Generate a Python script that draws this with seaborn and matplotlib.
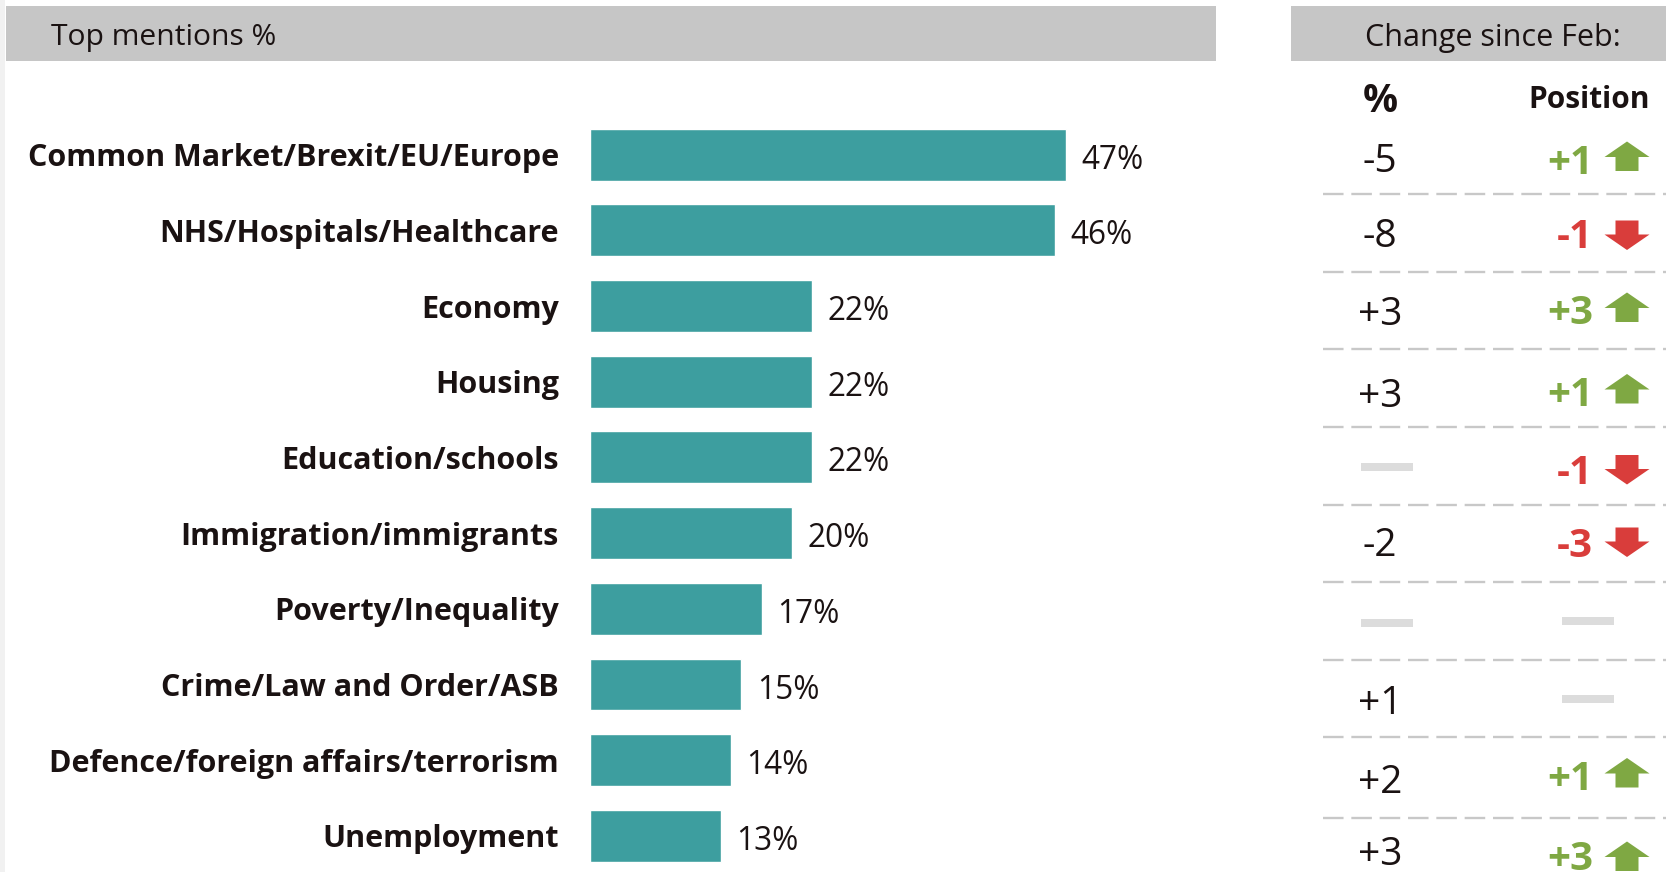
import matplotlib
matplotlib.use("Agg")
import matplotlib.pyplot as plt
import pandas as pd
import seaborn as sns
from matplotlib.patches import Polygon, Rectangle

# data
issues = ["Common Market/Brexit/EU/Europe", "NHS/Hospitals/Healthcare", "Economy", "Housing",
          "Education/schools", "Immigration/immigrants", "Poverty/Inequality",
          "Crime/Law and Order/ASB", "Defence/foreign affairs/terrorism", "Unemployment"]
mentions = [47, 46, 22, 22, 22, 20, 17, 15, 14, 13]
change_pct = ["-5", "-8", "+3", "+3", None, "-2", None, "+1", "+2", "+3"]
change_pos = ["+1", "-1", "+3", "+1", "-1", "-3", None, None, "+1", "+3"]

# layout, in pixels of the 1666x872 picture
W, H = 1666, 872
BAR_X0, PX_PER_UNIT = 589.5, 10.13
BAR_Y0, ROW_H = 154.6, 75.7
pct_y = [162, 237, 315, 397, 467, 546, 623, 704, 783, 855]
pos_y = [163, 237, 313, 395, 473, 546, 621, 699, 779, 859]
arrow_y = [156, 235.5, 307, 388.5, 470, 542.5, None, None, 772.5, 856]
rule_y = [194, 272, 349.5, 427, 505, 582, 660, 737, 818]

DARK = "#1a1212"
TEAL = "#3d9e9f"
GREEN = "#7fa843"
RED = "#d93d3b"
FONT = "Open Sans"

sns.set_theme(style="white")
plt.rcParams["font.family"] = FONT

df = pd.DataFrame({"issue": issues, "mentions": mentions})

fig = plt.figure(figsize=(W / 100, H / 100), dpi=100, facecolor="white")

# overlay in pixel coords for headers and the change table
ov = fig.add_axes([0, 0, 1, 1])
ov.set_xlim(0, W)
ov.set_ylim(H, 0)
ov.axis("off")

ov.add_patch(Rectangle((0, 0), 5, H, color="#f1f1f1", lw=0))
ov.add_patch(Rectangle((6, 6), 1210, 55, color="#c6c6c6", lw=0))
ov.add_patch(Rectangle((1291, 6), 375, 55, color="#c6c6c6", lw=0))
ov.text(51, 38, "Top mentions %", fontsize=21.6, color=DARK, va="center")
ov.text(1493, 38, "Change since Feb:", fontsize=22, color=DARK, va="center", ha="center")
ov.text(1380, 102, "%", fontsize=28, fontweight="bold", color=DARK, va="center", ha="center")
ov.text(1650, 100, "Position", fontsize=21.5, fontweight="bold", color=DARK, va="center", ha="right")

for y in rule_y:
    ov.plot([1323, W], [y, y], color="#c8c8c8", lw=1.7, dashes=(8.7, 3.3), dash_capstyle="butt")


def flat_dash(x, y):
    ov.add_patch(Rectangle((x, y - 4), 52, 8, color="#dcdcdc", lw=0))


def arrow(y, up, color):
    s = -1 if up else 1
    pts = [(1615.5, y - s * 15), (1638.5, y - s * 15), (1638.5, y - s * 1), (1649.5, y - s * 1),
           (1627, y + s * 14.5), (1604.5, y - s * 1), (1615.5, y - s * 1)]
    ov.add_patch(Polygon(pts, closed=True, color=color, lw=0))


for i in range(len(issues)):
    if change_pct[i] is None:
        flat_dash(1361, pct_y[i])
    else:
        ov.text(1380, pct_y[i], change_pct[i], fontsize=28, color=DARK, va="center", ha="center")

    if change_pos[i] is None:
        flat_dash(1562, pos_y[i])
    else:
        up = change_pos[i].startswith("+")
        col = GREEN if up else RED
        ov.text(1593, pos_y[i], change_pos[i], fontsize=29, fontweight="bold", color=col, va="center", ha="right")
        arrow(arrow_y[i], up, col)

# bars
ax_right = 1216
ax_top = BAR_Y0 - ROW_H / 2
ax_bottom = ax_top + ROW_H * len(issues)
ax = fig.add_axes([BAR_X0 / W, 1 - ax_bottom / H, (ax_right - BAR_X0) / W, (ax_bottom - ax_top) / H])
ax.patch.set_alpha(0)
sns.barplot(data=df, x="mentions", y="issue", color=TEAL, width=0.685, saturation=1, ax=ax)
ax.set_xlim(0, (ax_right - BAR_X0) / PX_PER_UNIT)
ax.set_ylim(len(issues) - 0.5, -0.5)
ax.set_xlabel("")
ax.set_ylabel("")
ax.set_xticks([])
sns.despine(ax=ax, left=True, bottom=True)
ax.tick_params(axis="y", length=0, pad=22)
for lab in ax.get_yticklabels():
    lab.set_fontsize(22)
    lab.set_fontweight("bold")
    lab.set_color(DARK)
labels = ax.bar_label(ax.containers[0], fmt="%d%%", padding=11, fontsize=22.8, color=DARK)
for t in labels:
    t.xyann = (11, -4)

fig.savefig("out.png", dpi=100)
